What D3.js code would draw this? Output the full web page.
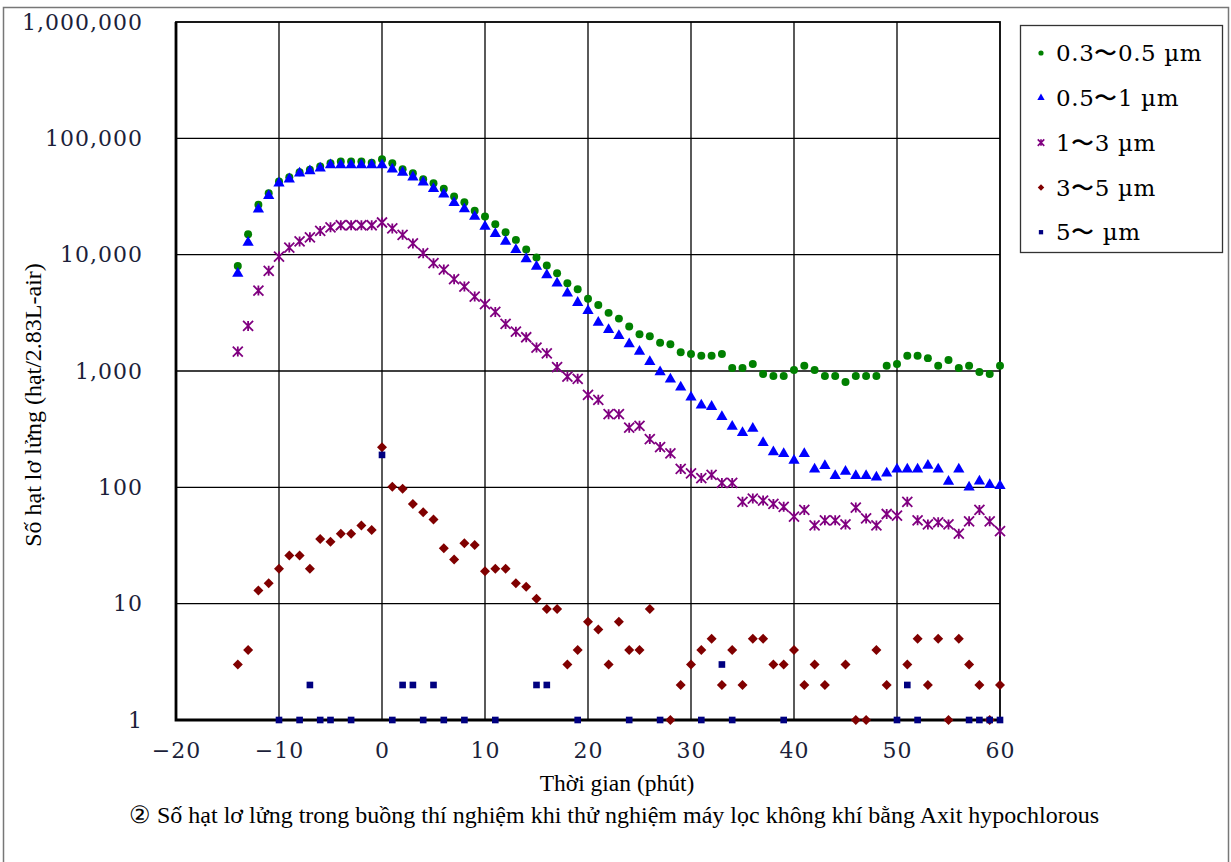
<!DOCTYPE html>
<html>
<head>
<meta charset="utf-8">
<script src="https://cdn.jsdelivr.net/npm/d3@7"></script>
<style>
body { margin: 0; background: #fff; }
</style>
</head>
<body>
<div id="chart"></div>
<script>
//time axis (minutes) and tick values
var minutes = [-14,-13,-12,-11,-10,-9,-8,-7,-6,-5,-4,-3,-2,-1,0,1,2,3,4,5,6,7,8,9,10,
    11,12,13,14,15,16,17,18,19,20,21,22,23,24,25,26,27,28,29,30,31,32,33,34,35,
    36,37,38,39,40,41,42,43,44,45,46,47,48,49,50,51,52,53,54,55,56,57,58,59,60];
var xTicks = [-20,-10,0,10,20,30,40,50,60];
var yTicks = [1,10,100,1000,10000,100000,1000000];

//particle counts per size range (null = zero count, not drawn on log scale)
var s03_05 = [8000,15000,26800,33800,42500,46400,51200,53600,57200,61200,
    63100,63100,63100,61700,66200,61200,54300,50000,44600,41200,
    36800,31600,28200,23900,21300,18300,15600,13400,11100,9440,
    8060,6920,5690,5050,4170,3700,3160,2820,2410,2070,
    1990,1750,1700,1450,1400,1350,1350,1400,1060,1060,
    1150,944,907,907,1020,1110,1020,907,907,806,
    907,907,907,1110,1150,1350,1350,1290,1110,1245,
    1060,1110,980,944,1110];
var s05_1 = [6900,12700,24600,32100,41200,44600,50100,52500,55400,58900,
    58900,58900,58900,58900,58900,54300,50800,46400,42000,36800,
    33000,28000,24700,21300,17500,15100,13000,11000,9200,7900,
    6700,5690,4670,3870,3290,2610,2260,2010,1710,1470,
    1200,982,850,726,596,507,494,405,333,295,
    320,242,201,194,170,194,143,153,126,137,
    126,126,122,132,143,143,143,154,143,112,
    143,100,113,105,103];
var s1_3 = [1470,2440,4910,7260,9640,11500,13000,14100,16000,17200,
    17900,17900,17900,17900,18900,16800,14800,12500,10300,8450,
    7440,6160,5320,4360,3750,3220,2540,2180,1950,1590,
    1420,1080,895,856,623,565,425,425,326,338,
    260,222,196,144,132,120,128,109,109,75,
    80,77,72,68,56,64,47,52,52,48,
    67,54,47,59,57,75,52,48,50,48,
    40,51,64,51,42];
var s3_5 = [3,4,13,15,20,26,26,20,36,34,
    40,40,47,43,221,101,97,72,61,53,
    30,24,33,32,19,20,20,15,14,11,
    9,9,3,4,7,6,3,7,4,4,
    9,null,1,2,3,4,5,2,4,2,
    5,5,3,3,4,2,3,2,null,3,
    1,1,4,2,null,3,5,2,5,1,
    5,3,2,1,2];
var s5 = [null,null,null,null,1,null,1,2,1,1,
    null,1,null,null,190,1,2,2,1,2,
    1,null,1,null,null,1,null,null,null,2,
    2,null,null,1,null,null,null,null,1,null,
    null,1,null,null,null,1,null,3,1,null,
    null,null,null,1,null,null,null,null,null,null,
    null,null,null,null,1,2,1,null,null,null,
    null,1,1,1,1];

var seriesNames = ["0.3\u301C0.5 \u00B5m", "0.5\u301C1 \u00B5m", "1\u301C3 \u00B5m", "3\u301C5 \u00B5m", "5\u301C \u00B5m"];
var seriesValues = [s03_05, s05_1, s1_3, s3_5, s5];
var seriesColors = ["#008000", "#0000ff", "#800080", "#800000", "#000080"];
var seriesShapes = ["circle", "triangle", "star", "diamond", "square"];

//marker paths
function markerPath(shape, k) {
    if (shape == "circle") return d3.symbol(d3.symbolCircle, 50 * k * k)();
    if (shape == "triangle") return d3.symbol(d3.symbolTriangle, 55 * k * k)();
    if (shape == "square") return d3.symbol(d3.symbolSquare, 44 * k * k)();
    if (shape == "diamond") {
        var r = 5 * k;
        return "M0," + (-r) + "L" + r + ",0L0," + r + "L" + (-r) + ",0Z";
    }
    var a = 5 * k;
    return "M" + (-a) + "," + (-a) + "L" + a + "," + a +
        "M" + (-a) + "," + a + "L" + a + "," + (-a) +
        "M0," + (-a) + "L0," + a;
}

//set the dimensions and margins of the graph
var margin = {top: 22, right: 231, bottom: 142, left: 176},
    width = 1231 - margin.left - margin.right,
    height = 862 - margin.top - margin.bottom;

var svg = d3.select("#chart").append("svg")
    .attr("width", 1231)
    .attr("height", 862);

//outer frame
svg.append("rect")
    .attr("x", 3.5).attr("y", 7.5)
    .attr("width", 1225).attr("height", 880)
    .attr("fill", "none")
    .attr("stroke", "#777")
    .attr("stroke-width", 1.5);

var g = svg.append("g")
    .attr("transform", "translate(" + margin.left + "," + margin.top + ")");

var x = d3.scaleLinear().domain([-20, 60]).range([0, width]);
var y = d3.scaleLog().domain([1, 1000000]).range([height, 0]);

//grid lines
g.append("g").selectAll("line")
    .data(xTicks.slice(1, -1))
    .join("line")
    .attr("x1", d => x(d)).attr("x2", d => x(d))
    .attr("y1", 0).attr("y2", height)
    .attr("stroke", "#000").attr("stroke-width", 1.3);
g.append("g").selectAll("line")
    .data(yTicks.slice(1, -1))
    .join("line")
    .attr("x1", 0).attr("x2", width)
    .attr("y1", d => y(d)).attr("y2", d => y(d))
    .attr("stroke", "#000").attr("stroke-width", 1.3);

//plot frame
g.append("rect")
    .attr("width", width).attr("height", height)
    .attr("fill", "none")
    .attr("stroke", "#000").attr("stroke-width", 1.8);
g.append("path")
    .attr("d", "M0,0L0," + height + "L" + width + "," + height)
    .attr("fill", "none")
    .attr("stroke", "#000").attr("stroke-width", 2.8);

//axes (labels only)
var yAxis = g.append("g")
    .call(d3.axisLeft(y).tickValues(yTicks).tickFormat(d3.format(",")).tickSize(0).tickPadding(33));
var xAxis = g.append("g")
    .attr("transform", "translate(0," + height + ")")
    .call(d3.axisBottom(x).tickValues(xTicks).tickFormat(d3.format("d")).tickSize(0).tickPadding(22));
[yAxis, xAxis].forEach(function(a) {
    a.select(".domain").remove();
    a.selectAll("text")
        .attr("fill", "#1c1f3a")
        .style("font-family", "'DejaVu Serif', serif")
        .style("font-size", "22px")
        .style("letter-spacing", "1px");
});

//data points
seriesValues.forEach(function(vals, i) {
    var pts = minutes.map((m, j) => ({t: m, v: vals[j]})).filter(d => d.v != null);
    g.append("g")
        .selectAll("path")
        .data(pts)
        .join("path")
        .attr("transform", d => "translate(" + x(d.t) + "," + y(d.v) + ")")
        .attr("d", markerPath(seriesShapes[i], 1))
        .attr("fill", seriesShapes[i] == "star" ? "none" : seriesColors[i])
        .attr("stroke", seriesShapes[i] == "star" ? seriesColors[i] : "none")
        .attr("stroke-width", 1.8);
});

//axis titles
svg.append("text")
    .attr("x", 617).attr("y", 791)
    .attr("text-anchor", "middle")
    .style("font-family", "'Liberation Serif', serif")
    .style("font-size", "23.5px")
    .text("Thời gian (phút)");
svg.append("text")
    .attr("transform", "translate(41,405) rotate(-90)")
    .attr("text-anchor", "middle")
    .style("font-family", "'Liberation Serif', serif")
    .style("font-size", "24px")
    .text("Số hạt lơ lửng (hạt/2.83L-air)");
svg.append("text")
    .attr("x", 129).attr("y", 823)
    .style("font-family", "'Liberation Serif', serif")
    .style("font-size", "24px")
    .text("② Số hạt lơ lửng trong buồng thí nghiệm khi thử nghiệm máy lọc không khí bằng Axit hypochlorous");

//legend
var legend = svg.append("g");
legend.append("rect")
    .attr("x", 1020.5).attr("y", 25.5)
    .attr("width", 202).attr("height", 227)
    .attr("fill", "#fff")
    .attr("stroke", "#333").attr("stroke-width", 1.3);
var items = legend.selectAll("g.item")
    .data(seriesNames)
    .join("g")
    .attr("class", "item")
    .attr("transform", (d, i) => "translate(1041," + (53 + i * 44.8) + ")");
items.append("path")
    .attr("d", (d, i) => markerPath(seriesShapes[i], 0.65))
    .attr("fill", (d, i) => seriesShapes[i] == "star" ? "none" : seriesColors[i])
    .attr("stroke", (d, i) => seriesShapes[i] == "star" ? seriesColors[i] : "none")
    .attr("stroke-width", 1.6);
items.append("text")
    .attr("x", 15).attr("dy", "0.36em")
    .style("font-family", "'DejaVu Serif', serif")
    .style("font-size", "23px")
    .style("letter-spacing", "0.6px")
    .text(d => d);
</script>
</body>
</html>
